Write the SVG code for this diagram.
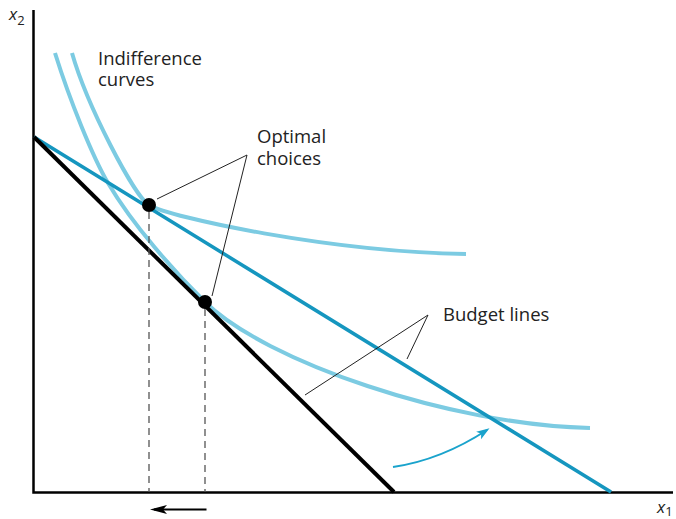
<svg xmlns="http://www.w3.org/2000/svg" width="676" height="519" viewBox="0 0 676 519">
  <style>
    .lbl { font-family: "Open Sans", "DejaVu Sans", sans-serif; font-size: 18.5px; fill: #222; }
    .ax { font-family: "Open Sans", "DejaVu Sans", sans-serif; font-style: italic; fill: #222; }
    .axis { stroke: #000; stroke-width: 2.5; fill: none; }
    .ic { stroke: #7ccbe2; stroke-width: 4; fill: none; stroke-linecap: butt; }
    .budget-blue { stroke: #1596bf; stroke-width: 3.5; fill: none; }
    .budget-black { stroke: #000; stroke-width: 4; fill: none; }
    .leader { stroke: #222; stroke-width: 1; fill: none; }
    .dash { stroke: #555; stroke-width: 1.3; stroke-dasharray: 7 5; fill: none; }
    .dot { fill: #000; }
  </style>
  <defs>
    <marker id="headBlue" markerUnits="userSpaceOnUse" markerWidth="14" markerHeight="10" refX="10" refY="4.5" orient="auto">
      <path d="M0,0 L13,4.5 L0,9 L3,4.5 z" fill="#1aa3cc"/>
    </marker>
    <marker id="headBlack" markerUnits="userSpaceOnUse" markerWidth="18" markerHeight="10" refX="13" refY="4.5" orient="auto">
      <path d="M0,0 L17,4.5 L0,9 L4,4.5 z" fill="#000"/>
    </marker>
  </defs>

  <g id="axes">
    <path class="axis" d="M33.5,10 V492.5 H673"/>
    <text class="ax" x="9" y="20" font-size="17">x<tspan font-size="13" font-style="normal" dy="5">2</tspan></text>
    <text class="ax" x="657" y="513" font-size="17">x<tspan font-size="13" font-style="normal" dy="3">1</tspan></text>
  </g>

  <g id="indifference-curves">
    <path id="ic-outer" class="ic" d="M72,53 C87,105.5 134,195.8 149,205 C169,217.3 330,252 466,254"/>
    <path id="ic-inner" class="ic" d="M55,53 C70,101 93,157.5 108,183 C133,225.5 175,272.4 205,302 C265,361 450,425 590,428"/>
  </g>

  <g id="budget-lines">
    <line id="budget-new" class="budget-blue" x1="34" y1="137" x2="611" y2="492"/>
    <line id="budget-old" class="budget-black" x1="34" y1="137" x2="394" y2="492"/>
  </g>

  <g id="connectors">
    <line class="dash" x1="149" y1="212" x2="149" y2="492"/>
    <line class="dash" x1="205" y1="309" x2="205" y2="492"/>
    <polyline class="leader" points="157,199 247,155 212,296"/>
    <polyline class="leader" points="305,395 428,315 407,359"/>
    <path d="M393,467 Q441,460 487,430" stroke="#1aa3cc" stroke-width="2" fill="none" marker-end="url(#headBlue)"/>
    <line x1="206.5" y1="509.5" x2="154" y2="509.5" stroke="#000" stroke-width="2" marker-end="url(#headBlack)"/>
  </g>

  <g id="optimal-1"><circle class="dot" cx="149" cy="205" r="7"/></g>
  <g id="optimal-2"><circle class="dot" cx="205" cy="302" r="7"/></g>

  <g id="label-indifference">
    <text class="lbl" x="98" y="65">Indifference</text>
    <text class="lbl" x="98" y="86">curves</text>
  </g>
  <g id="label-optimal">
    <text class="lbl" x="257" y="143">Optimal</text>
    <text class="lbl" x="257" y="165">choices</text>
  </g>
  <g id="label-budget">
    <text class="lbl" x="443" y="321">Budget lines</text>
  </g>
</svg>
